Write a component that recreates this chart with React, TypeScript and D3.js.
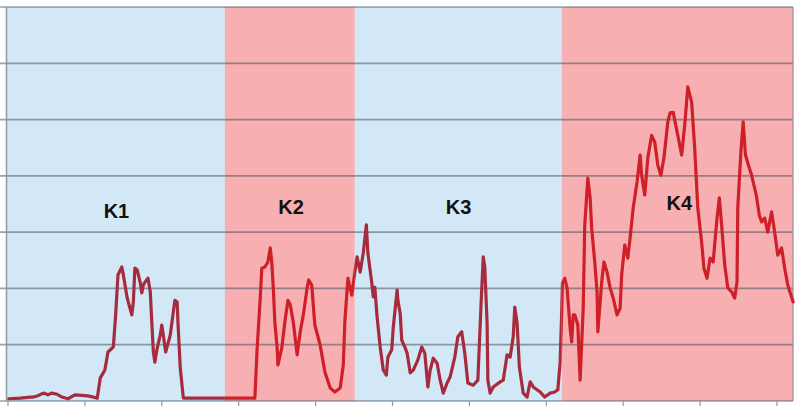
import React from "react";
import * as d3 from "d3";

// time axis ticks (0..100), value grid (0..7)
const xTicks = [0, 10, 20, 30, 40, 50, 60, 70, 80, 90, 100];
const yTicks = [0, 1, 2, 3, 4, 5, 6, 7];

// phases: start, end, label, label position
const phaseNames = ["K1", "K2", "K3", "K4"];
const phaseStart = [-0.13, 28.2, 45.1, 72.0];
const phaseEnd = [28.2, 45.1, 72.0, 102.1];
const phaseKind = ["blue", "pink", "blue", "pink"];
const labelT = [14.1, 36.8, 58.6, 87.3];
const labelV = [3.26, 3.33, 3.33, 3.4];

// signal [t, value]
const signal: [number, number][] = [
  [0.1, 0.04], [1.6, 0.05], [2.9, 0.07], [3.3, 0.07], [3.8, 0.09], [4.6, 0.14], [5.2, 0.11], [5.7, 0.14],
  [6.4, 0.12], [7.0, 0.07], [7.8, 0.04], [8.7, 0.11], [9.6, 0.1], [10.4, 0.09], [11.1, 0.07], [11.6, 0.05],
  [12.0, 0.41], [12.6, 0.55], [13.0, 0.87], [13.7, 0.96], [14.0, 1.53], [14.3, 2.24], [14.8, 2.38], [15.0, 2.24],
  [15.5, 1.83], [16.1, 1.53], [16.3, 1.76], [16.5, 2.36], [16.8, 2.33], [17.2, 2.1], [17.4, 1.92], [17.6, 2.06],
  [17.8, 2.11], [18.2, 2.18], [18.5, 1.94], [18.7, 1.4], [18.9, 0.87], [19.1, 0.69], [19.4, 0.94], [19.8, 1.17],
  [20.0, 1.35], [20.2, 1.17], [20.5, 0.87], [21.1, 1.17], [21.7, 1.79], [22.0, 1.76], [22.1, 1.4], [22.4, 0.59],
  [22.8, 0.05], [25.0, 0.05], [28.2, 0.05], [30.2, 0.05], [32.1, 0.05],
  [32.4, 0.94], [32.8, 1.83], [33.0, 2.36], [33.4, 2.38], [33.8, 2.47], [34.1, 2.72], [34.3, 2.47], [34.5, 2.01],
  [34.7, 1.4], [35.0, 0.94], [35.1, 0.64], [35.6, 0.94], [36.0, 1.4], [36.4, 1.79], [36.7, 1.71], [37.1, 1.4],
  [37.6, 0.82], [38.0, 1.23], [38.4, 1.53], [38.9, 2.01], [39.1, 2.15], [39.5, 2.06], [39.9, 1.35], [40.6, 0.99],
  [41.2, 0.52], [41.9, 0.23], [42.5, 0.16], [43.2, 0.23], [43.6, 0.64], [43.8, 1.4], [44.2, 2.18], [44.7, 1.88],
  [45.1, 2.29], [45.4, 2.56], [45.8, 2.29], [46.2, 2.63], [46.6, 3.13], [46.8, 2.63], [47.3, 2.1], [47.5, 1.85],
  [47.7, 2.02], [48.0, 1.49], [48.4, 0.96], [48.8, 0.55], [49.2, 0.46], [49.4, 0.78], [49.9, 0.91], [50.1, 1.31],
  [50.6, 1.97], [50.7, 1.79], [51.0, 1.56], [51.2, 1.08], [51.6, 0.96], [51.9, 0.85], [52.3, 0.5], [52.7, 0.55],
  [53.3, 0.73], [53.8, 0.96], [54.2, 0.85], [54.6, 0.25], [54.9, 0.55], [55.3, 0.76], [55.8, 0.67], [56.2, 0.37],
  [56.6, 0.14], [57.1, 0.32], [57.5, 0.43], [58.1, 0.78], [58.5, 1.14], [59.0, 1.23], [59.4, 0.85], [59.8, 0.32],
  [60.5, 0.28], [61.1, 0.37], [61.5, 1.67], [61.8, 2.56], [62.0, 2.38], [62.3, 1.39], [62.4, 0.37], [62.7, 0.14],
  [63.1, 0.25], [64.0, 0.34], [64.4, 0.37], [64.9, 0.82], [65.3, 0.78], [65.7, 1.14], [65.9, 1.67], [66.2, 1.39],
  [66.5, 0.6], [67.0, 0.14], [67.5, 0.07], [67.9, 0.34], [68.3, 0.25], [69.2, 0.16], [69.8, 0.07], [70.5, 0.14],
  [71.1, 0.16], [71.5, 0.2], [71.8, 0.69], [72.0, 1.56], [72.1, 2.1],
  [72.4, 2.18], [72.7, 2.01], [73.1, 1.3], [73.3, 1.05], [73.5, 1.53], [73.7, 1.53], [74.1, 1.35], [74.4, 0.37],
  [74.8, 1.65], [75.0, 3.13], [75.4, 3.96], [75.7, 3.61], [75.9, 3.07], [76.3, 2.47], [76.6, 1.94], [76.7, 1.23],
  [77.2, 2.11], [77.5, 2.47], [77.9, 2.29], [78.3, 2.01], [78.7, 1.83], [79.2, 1.53], [79.6, 1.65], [79.8, 2.24],
  [80.2, 2.77], [80.6, 2.54], [80.9, 2.9], [81.3, 3.43], [81.8, 3.89], [82.2, 4.37], [82.4, 4.01], [82.8, 3.66],
  [83.2, 4.32], [83.7, 4.72], [84.1, 4.6], [84.5, 4.19], [84.9, 4.01], [85.3, 4.32], [85.8, 4.96], [86.1, 5.12],
  [86.5, 5.13], [87.1, 4.72], [87.6, 4.37], [88.0, 4.9], [88.4, 5.58], [88.9, 5.31], [89.3, 4.49], [89.7, 3.43],
  [90.2, 2.82], [90.5, 2.36], [90.9, 2.18], [91.3, 2.54], [91.7, 2.47], [92.2, 3.25], [92.5, 3.61], [92.8, 3.13],
  [93.2, 2.42], [93.6, 2.01], [94.1, 1.94], [94.5, 1.83], [94.8, 2.11], [94.9, 3.43], [95.3, 4.42], [95.6, 4.96],
  [95.9, 4.37], [96.4, 4.14], [96.7, 4.01], [97.3, 3.66], [97.7, 3.3], [98.0, 3.18], [98.4, 3.25], [98.8, 3.0],
  [99.3, 3.36], [99.7, 3.0], [100.1, 2.59], [100.6, 2.72], [101.0, 2.36], [101.4, 2.06], [102.1, 1.76],
];

const W = 800;
const H = 408;
const plotLeft = 7;
const plotRight = 793;

export default function App() {
  const x = d3.scaleLinear().domain([0, 100]).range([8, 777]);
  const y = d3.scaleLinear().domain([0, 7]).range([401, 7]);
  const line = d3
    .line<[number, number]>()
    .x((d) => x(d[0]))
    .y((d) => y(d[1]))
    .curve(d3.curveLinear);
  const path = line(signal) || "";

  const fills: Record<string, string> = { blue: "#d2e8f6", pink: "#f8afb2" };
  const strokes: Record<string, string> = { blue: "#a62b3d", pink: "#cf2029" };

  return (
    <div style={{ position: "fixed", left: 0, top: 0, width: W, height: H, background: "#fff" }}>
      <svg width={W} height={H} style={{ display: "block" }}>
        <defs>
          {phaseNames.map((n, i) => (
            <clipPath id={`clip-${n}`} key={n}>
              <rect
                x={Math.max(plotLeft, x(phaseStart[i])) - (i === 0 ? 2 : 0)}
                y={0}
                width={Math.min(plotRight, x(phaseEnd[i])) - Math.max(plotLeft, x(phaseStart[i])) + (i === 0 ? 2 : 0) + (i === 3 ? 3 : 0)}
                height={H}
              />
            </clipPath>
          ))}
        </defs>
        {phaseNames.map((n, i) => (
          <rect
            key={n}
            x={Math.max(plotLeft, x(phaseStart[i]))}
            y={y(7)}
            width={Math.min(plotRight, x(phaseEnd[i])) - Math.max(plotLeft, x(phaseStart[i]))}
            height={y(0) - y(7)}
            fill={fills[phaseKind[i]]}
          />
        ))}
        {yTicks.map((v) => (
          <line
            key={v}
            x1={0}
            x2={plotRight}
            y1={y(v)}
            y2={y(v)}
            stroke="rgba(70,85,95,0.55)"
            strokeWidth={1.7}
          />
        ))}
        <line x1={plotLeft - 0.5} x2={plotLeft - 0.5} y1={y(7)} y2={y(0)} stroke="#8a9ba3" strokeWidth={1.5} />
        <line x1={plotRight} x2={plotRight} y1={y(7)} y2={y(0)} stroke="#9a8a8e" strokeWidth={1.2} />
        {xTicks.map((t) => (
          <line key={t} x1={x(t)} x2={x(t)} y1={y(0)} y2={y(0) + 5} stroke="#8a9ba3" strokeWidth={1.2} />
        ))}
        {phaseNames.map((n, i) => (
          <path
            key={n}
            d={path}
            fill="none"
            stroke={strokes[phaseKind[i]]}
            strokeWidth={3.2}
            strokeLinejoin="round"
            strokeLinecap="round"
            clipPath={`url(#clip-${n})`}
          />
        ))}
        {phaseNames.map((n, i) => (
          <text
            key={n}
            x={x(labelT[i])}
            y={y(labelV[i])}
            textAnchor="middle"
            fontFamily="'Liberation Sans', Arial, sans-serif"
            fontWeight="bold"
            fontSize={20}
            fill="#111"
          >
            {n}
          </text>
        ))}
      </svg>
    </div>
  );
}
